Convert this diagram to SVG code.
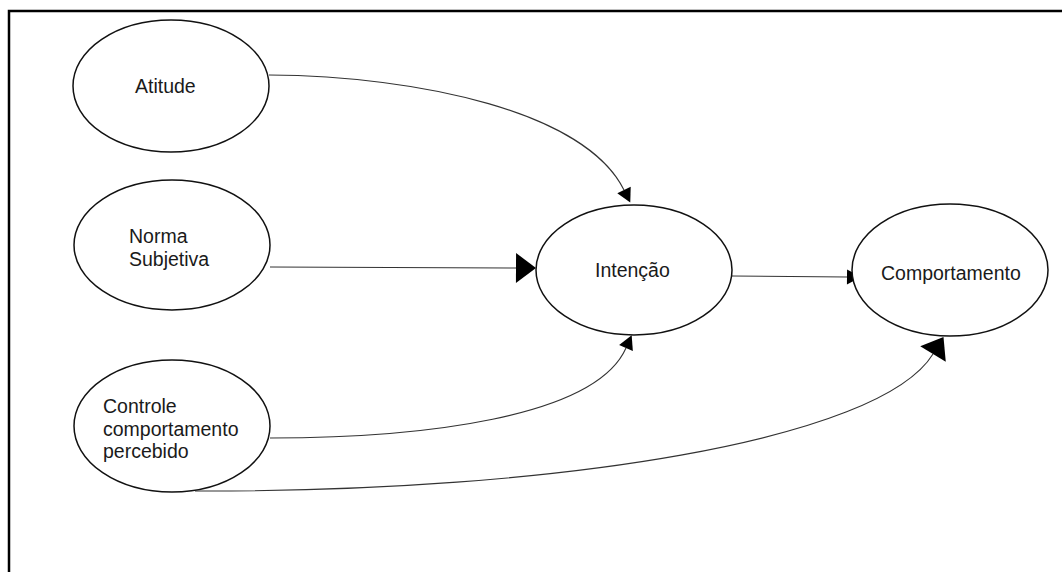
<svg xmlns="http://www.w3.org/2000/svg" width="1062" height="572" viewBox="0 0 1062 572">
<style>
.node ellipse{fill:#fff;stroke:#111;stroke-width:1.5}
.node text{font-family:"Liberation Sans",Arial,sans-serif;font-size:19.5px;fill:#1a1a1a}
.edge{fill:none;stroke:#333;stroke-width:1.1}
</style>
<defs>
<marker id="big" markerUnits="userSpaceOnUse" markerWidth="22" markerHeight="32" refX="0" refY="15" orient="auto" overflow="visible">
<path d="M0,0 L20,15 L0,30 z" fill="#000"/>
</marker>
<marker id="small" markerUnits="userSpaceOnUse" markerWidth="16" markerHeight="16" refX="0" refY="7.5" orient="auto" overflow="visible">
<path d="M0,0 L14,7.5 L0,15 z" fill="#000"/>
</marker>
</defs>
<rect x="0" y="0" width="1062" height="572" fill="#fff"/>
<path d="M9,572 L9,11 L1062,11" fill="none" stroke="#000" stroke-width="2.5"/>
<g id="connectors">
<path class="edge" d="M269,75 C420,76 585,112 624,190" marker-end="url(#small)"/>
<path class="edge" d="M270,267 L516,268" marker-end="url(#big)"/>
<path class="edge" d="M732,276 L847,277" marker-end="url(#small)"/>
<path class="edge" d="M270,438 C420,438 595,418 626,348" marker-end="url(#small)"/>
<path class="edge" d="M195,491 C560,492 880,440 933,354" marker-end="url(#big)"/>
</g>
<g id="atitude" class="node">
<ellipse cx="171" cy="86" rx="98" ry="66"/>
<text x="135" y="93">Atitude</text>
</g>
<g id="norma" class="node">
<ellipse cx="172" cy="245" rx="98" ry="65"/>
<text x="129" y="243">Norma</text>
<text x="129" y="266">Subjetiva</text>
</g>
<g id="controle" class="node">
<ellipse cx="172" cy="426" rx="98" ry="66"/>
<text x="103" y="413">Controle</text>
<text x="103" y="436">comportamento</text>
<text x="103" y="458">percebido</text>
</g>
<g id="intencao" class="node">
<ellipse cx="634" cy="270" rx="98" ry="65"/>
<text x="595" y="277">Intenção</text>
</g>
<g id="comportamento" class="node">
<ellipse cx="950" cy="270" rx="98" ry="66"/>
<text x="881" y="280">Comportamento</text>
</g>
</svg>
